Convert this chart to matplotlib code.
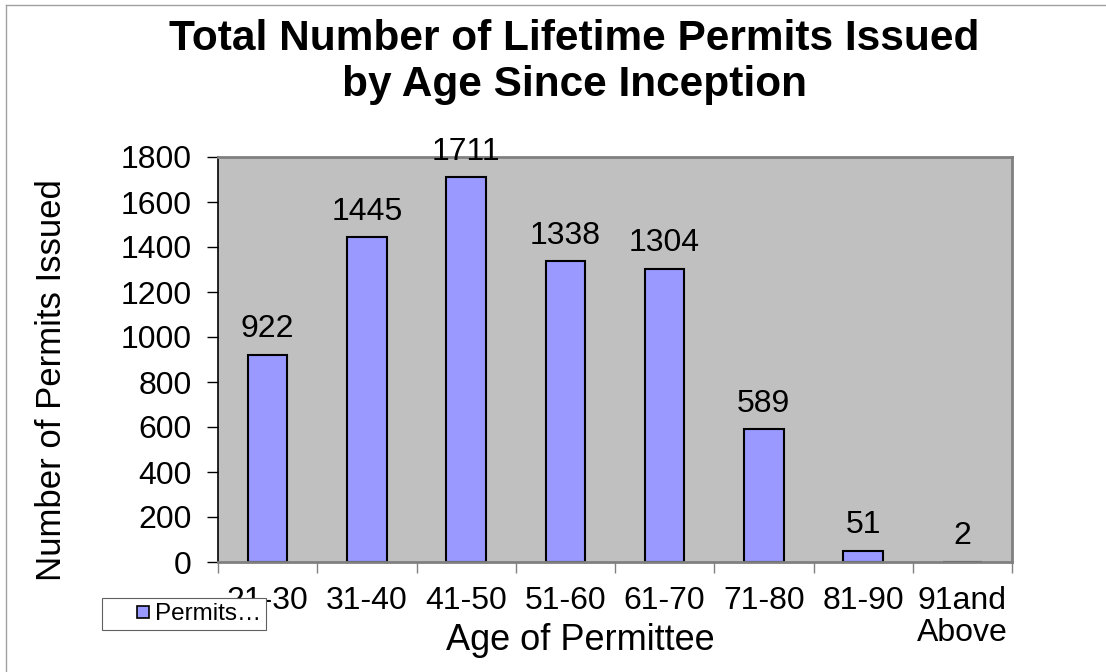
import matplotlib
matplotlib.use("Agg")
import matplotlib.pyplot as plt
from matplotlib.lines import Line2D
import numpy as np

categories = ["21-30", "31-40", "41-50", "51-60", "61-70", "71-80", "81-90", "91and\nAbove"]
permits = [922, 1445, 1711, 1338, 1304, 589, 51, 2]
yticks = [0, 200, 400, 600, 800, 1000, 1200, 1400, 1600, 1800]
series_name = "Permits…"

plt.rcParams['font.family'] = ['Liberation Sans', 'DejaVu Sans']

W, H = 1106, 672
fig = plt.figure(figsize=(W/100, H/100), dpi=100)
ax = fig.add_axes([218/W, 1-562/H, (1012-218)/W, (562-157)/H])
ax.set_facecolor('#C0C0C0')

x = np.arange(len(categories))
ax.bar(x, permits, width=0.4, color='#9999FF', edgecolor='black', linewidth=1.5)
for xi, v in zip(x, permits):
    ax.text(xi, v + 45, str(v), ha='center', va='bottom', fontsize=23)

ax.set_xlim(-0.5, len(categories)-0.5)
ax.set_ylim(0, 1800)
ax.set_yticks(yticks)
ax.set_yticklabels([str(t) for t in yticks], fontsize=23)
ax.set_xticks(x)
ax.set_xticklabels(categories, fontsize=23, linespacing=1.1)
ax.tick_params(axis='x', length=0, pad=17)
ax.set_xticks(np.arange(-0.5, len(categories), 1), minor=True)
ax.tick_params(axis='x', which='minor', length=8, width=1, color='#808080', direction='out')
ax.tick_params(axis='y', length=8, width=1, direction='out', pad=11)

for s in ['top', 'right', 'bottom']:
    ax.spines[s].set_color('#808080')
    ax.spines[s].set_linewidth(2)
ax.spines['left'].set_color('black')
ax.spines['left'].set_linewidth(1.2)

ax.set_xlabel("Age of Permittee", fontsize=26)
ax.xaxis.set_label_coords((580-218)/794, (562-640)/405)
ax.xaxis.label.set_va('center')
ax.set_ylabel("Number of Permits Issued", fontsize=25)
ax.yaxis.set_label_coords((52-218)/794, (562-380)/405)
ax.yaxis.label.set_va('center')

fig.text(574/W, 1-62/H, "Total Number of Lifetime Permits Issued\nby Age Since Inception",
         ha='center', va='center', fontsize=30.5, fontweight='bold', linespacing=1.2)

handle = Line2D([], [], linestyle='none', marker='s', markersize=9.2,
                markerfacecolor='#9999FF', markeredgecolor='black', markeredgewidth=1.2)
leg = ax.legend([handle], [series_name], loc='lower left', bbox_to_anchor=(102/W, 1-630/H),
                bbox_transform=fig.transFigure, fontsize=17.5, frameon=True, fancybox=False,
                edgecolor='#606060', framealpha=1, handlelength=3.0, handletextpad=-1.0,
                borderpad=0.2, borderaxespad=0)
leg.get_frame().set_linewidth(0.8)

fig.add_artist(Line2D([6/W, 6/W], [0, 1-5/H], transform=fig.transFigure, color='#A0A0A0', linewidth=1))
fig.add_artist(Line2D([6/W, 1], [1-5/H, 1-5/H], transform=fig.transFigure, color='#A0A0A0', linewidth=1))

fig.savefig("out.png", dpi=100)
